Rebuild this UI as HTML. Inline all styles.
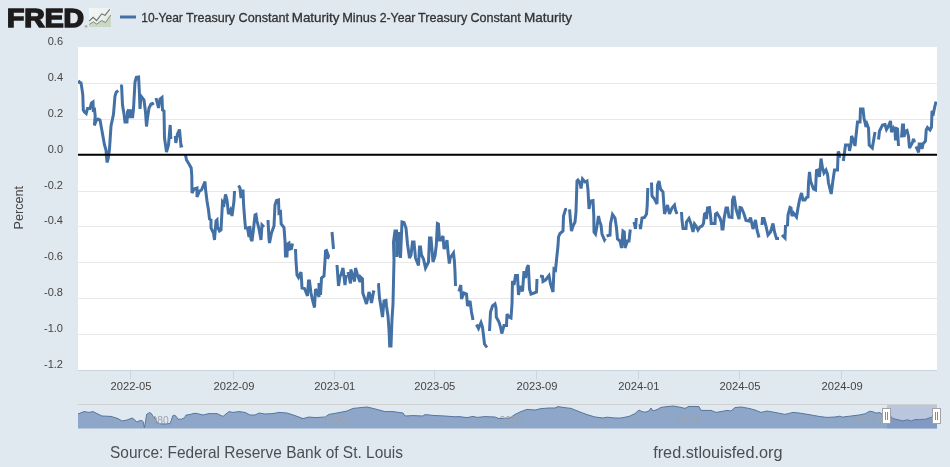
<!DOCTYPE html>
<html lang="en"><head><meta charset="utf-8"><title>10-Year Treasury Constant Maturity Minus 2-Year Treasury Constant Maturity</title>
<style>
html,body{margin:0;padding:0;background:#e1e9f0;}
body{width:950px;height:467px;overflow:hidden;font-family:"Liberation Sans",sans-serif;}
svg{display:block;}
text{font-family:"Liberation Sans",sans-serif;}
.ax{font-size:11px;fill:#444;}
.nv{font-size:10.3px;fill:#9aa2b0;}
.ft{font-size:16.5px;fill:#4a4f55;}
</style></head><body>
<svg width="950" height="467" viewBox="0 0 950 467">
<defs>
<clipPath id="plotclip"><rect x="78" y="47" width="859" height="323"/></clipPath>
<linearGradient id="icbg" x1="0" y1="0" x2="1" y2="1"><stop offset="0" stop-color="#f4f6f7"/><stop offset="0.5" stop-color="#eef1ee"/><stop offset="1" stop-color="#d3ddd2"/></linearGradient>
</defs>
<rect x="0" y="0" width="950" height="467" fill="#e1e9f0"/>
<rect x="78" y="47" width="859" height="323" fill="#ffffff"/>
<path d="M78 83.5H937" stroke="#e8e8e8" stroke-width="1" fill="none"/>
<path d="M78 119.5H937" stroke="#e8e8e8" stroke-width="1" fill="none"/>
<path d="M78 191.5H937" stroke="#e8e8e8" stroke-width="1" fill="none"/>
<path d="M78 226.5H937" stroke="#e8e8e8" stroke-width="1" fill="none"/>
<path d="M78 262.5H937" stroke="#e8e8e8" stroke-width="1" fill="none"/>
<path d="M78 298.5H937" stroke="#e8e8e8" stroke-width="1" fill="none"/>
<path d="M78 334.5H937" stroke="#e8e8e8" stroke-width="1" fill="none"/>
<path d="M78 370.5H937" stroke="#c8d3e0" stroke-width="1" fill="none"/>
<text class="ax" x="63" y="45.0" text-anchor="end">0.6</text>
<text class="ax" x="63" y="80.9" text-anchor="end">0.4</text>
<text class="ax" x="63" y="116.8" text-anchor="end">0.2</text>
<text class="ax" x="63" y="152.7" text-anchor="end">0.0</text>
<text class="ax" x="63" y="188.6" text-anchor="end">-0.2</text>
<text class="ax" x="63" y="224.4" text-anchor="end">-0.4</text>
<text class="ax" x="63" y="260.3" text-anchor="end">-0.6</text>
<text class="ax" x="63" y="296.2" text-anchor="end">-0.8</text>
<text class="ax" x="63" y="332.1" text-anchor="end">-1.0</text>
<text class="ax" x="63" y="368.0" text-anchor="end">-1.2</text>
<text transform="translate(23 229.4) rotate(-90)" font-size="12.3" fill="#444" textLength="43.4" lengthAdjust="spacingAndGlyphs">Percent</text>
<path d="M130.5 370V379.5" stroke="#cbd5e2" stroke-width="1" fill="none"/>
<text class="ax" font-size="11.2" style="font-size:11.2px" x="131.0" y="390" text-anchor="middle">2022-05</text>
<path d="M233.5 370V379.5" stroke="#cbd5e2" stroke-width="1" fill="none"/>
<text class="ax" font-size="11.2" style="font-size:11.2px" x="234.0" y="390" text-anchor="middle">2022-09</text>
<path d="M334.5 370V379.5" stroke="#cbd5e2" stroke-width="1" fill="none"/>
<text class="ax" font-size="11.2" style="font-size:11.2px" x="334.8" y="390" text-anchor="middle">2023-01</text>
<path d="M434.5 370V379.5" stroke="#cbd5e2" stroke-width="1" fill="none"/>
<text class="ax" font-size="11.2" style="font-size:11.2px" x="434.8" y="390" text-anchor="middle">2023-05</text>
<path d="M536.5 370V379.5" stroke="#cbd5e2" stroke-width="1" fill="none"/>
<text class="ax" font-size="11.2" style="font-size:11.2px" x="537.0" y="390" text-anchor="middle">2023-09</text>
<path d="M638.5 370V379.5" stroke="#cbd5e2" stroke-width="1" fill="none"/>
<text class="ax" font-size="11.2" style="font-size:11.2px" x="638.9" y="390" text-anchor="middle">2024-01</text>
<path d="M739.5 370V379.5" stroke="#cbd5e2" stroke-width="1" fill="none"/>
<text class="ax" font-size="11.2" style="font-size:11.2px" x="740.0" y="390" text-anchor="middle">2024-05</text>
<path d="M841.5 370V379.5" stroke="#cbd5e2" stroke-width="1" fill="none"/>
<text class="ax" font-size="11.2" style="font-size:11.2px" x="842.1" y="390" text-anchor="middle">2024-09</text>
<path clip-path="url(#plotclip)" d="M78.5 80.5 L79.5 82.5 L81.0 83.0 L82.0 89.0 L82.8 95.0 L83.3 110.0 L84.5 112.0 L86.2 113.5 L87.5 108.5 L90.0 108.5 L91.5 103.0 L93.0 102.0 L93.3 110.0 L94.5 109.5 L95.2 116.0 L94.4 125.5 L96.0 121.0 L98.0 119.0 L100.0 120.0 L102.0 131.0 L104.5 145.0 L106.0 150.0 L106.8 160.0 L107.2 162.5 L108.3 158.0 L109.5 149.0 L111.0 126.0 L112.5 119.0 L113.5 114.0 L115.0 96.0 L116.3 92.0 L118.4 90.8 M120.2 85.5 L121.6 86.0 L122.5 105.0 L124.0 114.0 L125.0 122.0 L127.0 122.0 L127.5 112.0 L128.5 109.5 L129.5 118.0 L131.5 109.5 L132.5 118.0 L133.5 109.0 L135.0 82.0 L136.3 77.3 L138.6 77.0 L139.5 95.0 L140.0 109.0 L141.0 96.0 L144.0 100.0 L145.5 112.0 L146.5 126.5 L147.5 118.0 L149.0 108.0 L151.0 104.0 L152.5 103.5 L153.5 105.0 M156.0 98.0 L158.5 108.0 L160.0 99.0 L162.0 97.5 L162.5 110.0 L164.0 111.0 L164.5 138.0 L166.5 152.0 L168.5 145.0 L170.2 125.0 L170.8 139.0 M175.3 136.0 L175.8 143.0 L177.5 134.0 L179.5 129.5 L181.0 146.0 L182.8 145.5 M185.5 155.0 L186.5 160.0 L189.0 164.0 L191.2 168.0 L191.8 176.0 L192.0 193.0 L194.0 189.0 L197.0 188.0 L197.0 197.0 L199.5 191.0 L201.5 190.0 L205.0 181.5 L205.5 189.0 L207.0 201.0 L208.5 210.0 L209.5 219.0 L211.0 220.0 L211.0 228.0 L213.5 233.0 L214.5 240.0 L216.0 221.0 L217.0 220.0 L217.5 227.0 L219.5 231.0 L221.0 230.0 L222.5 202.0 L224.0 204.0 L225.5 194.5 L227.0 200.0 L228.5 214.0 L230.5 210.0 L232.0 216.0 L234.0 201.0 L234.5 191.0 M238.5 185.5 L240.0 188.0 L241.0 198.0 L243.0 189.5 L243.5 203.0 L244.5 217.0 L245.5 228.0 L247.5 228.0 L249.0 237.0 L249.8 226.0 L251.0 239.0 L252.0 241.0 L253.5 229.0 L255.0 215.0 L256.0 214.5 L257.0 221.0 L259.0 229.0 L261.0 240.0 L262.0 225.0 L264.0 227.0 M268.0 220.0 L268.5 230.0 L269.0 239.0 L269.5 243.0 L271.5 233.0 L274.0 226.0 L275.0 205.0 L276.5 200.5 L278.5 200.0 L279.0 213.0 L280.5 212.0 L281.2 224.0 L284.0 227.5 L285.0 241.0 L285.5 256.0 L287.0 256.0 L287.5 244.0 L289.0 243.0 L290.0 249.0 L291.5 248.5 L292.5 243.5 M295.5 249.0 L296.0 261.0 L297.0 275.0 L298.5 277.5 L301.0 272.0 L301.5 279.0 L302.0 288.0 L304.5 288.5 L307.5 296.0 L308.5 281.0 L309.5 281.0 L311.0 293.0 L312.5 300.0 L314.5 307.5 L315.5 289.0 L317.5 293.0 L319.0 297.0 L319.0 283.0 L320.5 295.0 L321.5 278.0 L324.0 276.0 L325.0 261.0 L325.5 251.0 L326.5 250.5 L328.5 256.0 L327.5 259.0 M332.0 232.0 L333.5 249.0 M337.0 265.0 L338.5 286.0 L340.0 276.0 L341.0 275.0 L343.0 268.0 L345.0 285.0 L346.0 275.0 M348.0 272.0 L350.5 283.5 L350.8 269.5 L352.5 275.0 L354.5 281.5 L355.5 268.0 L357.5 275.0 L360.0 282.0 L360.5 277.0 L362.5 279.0 L362.8 293.0 L364.5 298.0 L366.5 304.0 L369.0 292.0 L370.0 295.0 L371.5 303.0 L373.5 292.0 L375.0 292.5 M377.5 284.5 L378.5 284.5 L379.5 298.0 L380.5 304.0 L382.5 317.0 L384.0 301.0 L386.0 300.5 L386.5 306.0 L388.0 316.0 L389.0 330.0 L389.7 346.0 L391.0 346.0 L392.0 319.0 L393.0 304.0 L394.0 260.0 L393.5 242.0 L395.0 231.0 L396.5 231.0 L397.0 257.0 L398.5 232.0 L400.5 258.0 L402.0 222.0 L404.0 222.5 L406.0 228.0 L407.5 244.0 L409.5 258.0 L411.0 255.0 L412.5 242.0 L414.0 242.0 L415.5 258.0 L418.5 265.5 L419.5 247.0 L420.5 247.0 L421.5 255.0 L423.5 259.0 L425.5 268.0 L427.5 264.0 L428.5 262.0 L429.5 238.0 L431.0 238.0 L432.0 250.0 L433.0 262.0 L435.0 256.0 L436.3 245.0 L437.4 223.5 L438.4 224.0 L439.5 240.0 L441.0 240.0 L443.0 236.0 L444.0 249.0 L445.5 246.0 L447.0 240.0 L448.0 252.0 L449.3 263.5 L450.2 258.0 L453.5 253.0 L454.5 262.0 L455.0 272.0 L455.5 286.0 M459.0 291.5 L460.8 285.0 L461.5 299.0 L464.0 293.0 L466.5 294.0 L467.5 306.0 L470.0 301.0 L471.5 312.0 L473.0 320.0 M476.5 324.5 L478.5 328.5 L481.0 322.5 L482.5 327.0 L484.5 344.0 L487.0 347.5 M489.5 331.0 L490.5 312.0 L492.5 306.0 L495.0 304.0 L496.0 308.0 L496.3 317.0 L499.0 322.0 L500.5 327.0 L501.8 333.5 L504.0 325.5 L506.5 325.5 L507.0 314.0 L509.0 317.0 L511.0 318.0 L512.0 304.0 L512.5 281.0 L514.0 285.0 L515.5 275.5 L517.5 275.5 L518.5 295.0 L520.0 286.0 L522.5 291.5 L524.0 271.0 L525.5 278.0 L527.0 268.0 L528.3 265.0 L529.0 278.0 L529.5 289.0 L531.0 294.0 L534.0 293.0 L536.5 292.0 L537.0 279.0 M540.0 276.0 L542.5 276.5 L543.0 281.5 L545.5 280.0 L549.0 275.5 L550.5 284.0 L553.0 292.0 L554.0 269.0 L555.5 270.0 L557.0 255.0 L558.0 246.0 L558.5 237.0 L560.0 233.5 L563.0 231.0 L563.5 216.0 L565.5 209.5 L567.0 209.3 M569.6 209.3 L570.5 221.0 L571.5 231.0 L573.0 226.0 L575.0 222.0 L576.0 212.0 L577.0 181.0 L578.0 180.0 L580.0 183.0 L581.0 188.5 L582.5 179.0 L585.0 182.0 L587.0 181.0 L588.0 190.0 L589.0 209.0 L590.5 201.0 L593.0 200.5 L593.8 216.0 L594.0 232.0 L595.5 234.0 L597.0 226.0 L598.5 216.0 L599.5 221.0 L601.0 225.0 L602.0 234.0 L604.5 240.0 L605.4 238.5 M606.6 236.0 L610.0 235.0 L610.5 224.0 L612.5 214.5 L615.0 218.0 L616.5 228.0 L617.5 239.0 L620.0 241.0 L621.5 248.0 L623.0 231.0 L624.3 232.0 L625.0 248.0 L627.5 241.0 L629.0 241.0 L630.3 229.5 M634.0 222.0 L635.5 229.0 L636.3 218.0 M640.0 224.0 L640.5 229.0 L642.0 218.0 L644.5 217.5 L646.5 214.0 L647.2 206.0 L647.8 188.0 M651.5 182.5 L652.0 196.0 L654.5 199.0 L657.0 204.0 L657.5 185.0 L659.0 181.0 L660.5 189.0 L663.0 192.0 L664.0 207.0 L664.5 214.0 L667.5 205.0 L669.5 214.0 L672.0 208.0 L674.5 205.0 L675.5 210.0 L677.0 214.0 M681.5 212.0 L682.0 220.0 L683.0 228.5 L686.0 228.5 L686.5 222.0 L689.0 218.5 L691.0 224.0 L693.0 232.0 L694.5 224.0 L696.0 226.0 L698.0 230.0 L700.0 227.0 L702.0 226.0 L703.5 223.5 L704.5 214.0 L706.0 213.0 L706.5 219.0 L707.5 208.0 L709.5 207.5 L710.5 215.0 L711.2 223.5 L715.0 223.5 L715.5 214.0 L717.0 213.0 L720.0 218.0 L721.5 223.0 L722.0 229.0 L723.0 229.0 L724.0 219.0 L726.0 208.0 L727.5 208.0 L729.0 217.0 L732.0 217.5 L732.5 200.0 L734.0 196.0 L735.0 202.0 L736.0 209.0 L737.5 214.0 L739.0 219.0 L740.0 207.5 L741.5 208.0 L744.0 214.0 L746.0 220.5 L749.0 221.0 L750.5 217.5 L753.0 229.0 L755.5 220.0 L757.0 230.0 L759.0 237.5 M762.0 225.0 L762.5 218.5 L764.0 218.5 L766.0 226.0 L768.0 235.0 L770.5 232.0 L773.0 223.5 L774.5 232.0 L776.5 238.5 L779.0 238.5 M782.0 235.0 L785.0 238.0 L785.5 226.0 L787.5 225.0 L788.0 215.0 L790.0 207.5 L791.0 208.0 L792.0 216.0 L793.5 213.0 L796.5 217.0 L798.0 208.0 L799.5 200.0 L801.5 193.0 L803.0 200.0 L805.0 200.0 L806.5 197.5 L808.0 197.0 L808.5 183.0 L809.5 172.0 L810.5 181.0 L813.5 189.0 L815.5 190.0 L816.5 170.5 L818.0 170.0 L819.5 177.0 L821.0 158.5 L822.5 168.0 L824.0 173.0 L826.0 170.0 L827.5 174.0 L828.5 183.0 L831.2 194.0 L833.0 180.0 L834.5 170.0 L837.5 170.0 L838.2 151.5 L839.0 153.0 L839.6 158.0 M843.3 161.0 L844.0 156.0 L845.5 145.0 L849.0 145.0 L849.5 151.0 L851.0 144.0 L851.5 136.0 L853.5 140.0 L855.0 146.0 L856.2 134.0 L857.5 122.0 L860.0 122.0 L860.5 109.0 L863.0 109.0 L864.0 118.0 L866.0 127.0 L867.0 124.0 L868.5 128.0 L869.2 145.0 L872.3 148.0 L874.0 138.0 L875.0 132.0 M878.5 139.5 L879.5 131.0 L882.5 125.0 L885.0 124.5 L886.5 129.5 L888.5 126.0 L890.5 121.0 L891.5 132.0 L893.5 128.0 L895.0 131.0 L895.5 140.5 L896.5 128.5 L897.5 129.0 L898.5 146.0 M901.5 137.5 L902.5 125.0 L903.5 125.0 L904.0 137.0 L905.0 131.5 L907.0 130.5 L908.5 136.5 L909.5 148.0 L912.5 142.5 L913.5 139.0 L914.5 142.5 M916.0 146.5 L918.6 152.5 L919.2 144.0 L921.5 144.0 L922.0 149.0 L923.0 144.0 L925.5 141.0 L926.2 130.0 L927.5 127.5 L930.0 130.0 L931.5 127.0 L932.0 111.0 L933.5 113.0 L934.5 108.0 L936.0 101.5" stroke="#4370a5" stroke-width="3" fill="none" stroke-miterlimit="3" stroke-linejoin="miter" stroke-linecap="butt"/>
<path d="M78 154.8H937" stroke="#000" stroke-width="2" fill="none"/>
<text x="6.9" y="26.75" font-size="26.4" font-weight="bold" fill="#1d1b1c" stroke="#1d1b1c" stroke-width="1.6" stroke-linejoin="miter" textLength="77.2" lengthAdjust="spacingAndGlyphs">FRED</text>
<text x="84.5" y="28" font-size="4" fill="#333">®</text>
<rect x="89" y="8" width="22" height="19" fill="url(#icbg)"/>
<path d="M89.2 24.4L93.4 21.8L96.6 24.1L101.7 20.6L105.6 22.5L110.7 15.1V27H89.2Z" fill="#c9d7c4" stroke="none"/>
<path d="M89.2 24.4L93.4 21.8L96.6 24.1L101.7 20.6L105.6 22.5L110.7 15.1" fill="none" stroke="#788a75" stroke-width="1"/>
<path d="M89.2 21.2L93.1 17.3L96.6 20.6L101.7 13.8L105 15.4L109.8 9.3" fill="none" stroke="#5c6b6e" stroke-width="1.05"/>
<path d="M120 17H136" stroke="#4370a5" stroke-width="3" fill="none"/>
<text x="141" y="22" font-size="13" fill="#333" stroke="#333" stroke-width="0.3"><tspan x="141.21" textLength="41.66" lengthAdjust="spacingAndGlyphs">10-Year</tspan> <tspan x="186.09" textLength="49.08" lengthAdjust="spacingAndGlyphs">Treasury</tspan> <tspan x="238.52" textLength="50.59" lengthAdjust="spacingAndGlyphs">Constant</tspan> <tspan x="291.74" textLength="47.71" lengthAdjust="spacingAndGlyphs">Maturity</tspan> <tspan x="342.20" textLength="34.11" lengthAdjust="spacingAndGlyphs">Minus</tspan> <tspan x="379.68" textLength="35.71" lengthAdjust="spacingAndGlyphs">2-Year</tspan> <tspan x="418.05" textLength="49.16" lengthAdjust="spacingAndGlyphs">Treasury</tspan> <tspan x="470.41" textLength="50.45" lengthAdjust="spacingAndGlyphs">Constant</tspan> <tspan x="524.03" textLength="48.12" lengthAdjust="spacingAndGlyphs">Maturity</tspan></text>
<path d="M78.0 414.0 L84.0 411.6 L89.0 412.4 L93.0 411.6 L97.0 413.6 L102.0 416.0 L111.0 416.4 L118.0 418.6 L122.0 421.0 L127.0 420.0 L130.0 418.8 L132.2 418.0 L134.4 419.5 L136.6 422.1 L138.8 421.0 L141.8 420.3 L143.3 422.1 L144.4 427.6 L145.5 422.0 L146.6 414.4 L149.5 412.5 L151.4 413.6 L152.8 416.2 L155.0 418.0 L157.3 422.8 L160.0 423.8 L165.0 424.0 L169.8 423.6 L171.3 420.6 L172.7 415.8 L174.2 415.1 L176.0 416.2 L177.9 419.2 L181.6 419.2 L184.5 417.7 L186.0 415.1 L189.0 414.7 L191.9 414.0 L194.1 413.3 L197.0 413.6 L199.0 414.0 L203.0 415.0 L209.0 413.6 L217.0 413.6 L223.0 416.4 L226.0 414.0 L229.0 411.6 L233.0 412.4 L239.0 411.6 L245.0 412.4 L250.0 415.0 L255.0 415.0 L259.0 413.0 L265.0 414.0 L273.0 413.6 L279.0 412.4 L287.0 413.0 L295.0 415.6 L303.0 418.6 L309.0 417.0 L315.0 417.6 L325.0 417.0 L329.0 414.4 L337.0 413.0 L347.0 411.0 L353.0 408.4 L363.0 407.4 L367.0 407.0 L373.0 408.4 L379.0 410.0 L385.0 411.6 L393.0 411.6 L403.0 413.0 L405.0 416.0 L413.0 415.6 L423.0 416.0 L425.0 414.6 L433.0 415.4 L445.0 416.0 L455.0 416.8 L459.0 416.6 L467.0 417.6 L473.0 416.4 L477.0 417.4 L485.0 416.6 L495.0 417.0 L499.0 418.6 L510.0 418.0 L515.0 414.4 L521.0 411.6 L527.0 409.4 L535.0 410.0 L541.0 408.6 L549.0 408.0 L555.0 408.0 L558.0 406.6 L563.0 407.4 L571.0 408.4 L579.0 411.6 L587.0 414.6 L595.0 417.0 L603.0 418.0 L607.0 417.2 L615.0 418.0 L621.0 418.0 L629.0 416.4 L635.0 413.6 L639.0 410.0 L642.0 411.6 L645.0 412.2 L649.0 411.0 L651.0 408.0 L653.0 411.0 L657.0 409.6 L661.0 407.4 L667.0 406.6 L673.0 406.0 L679.0 407.0 L685.0 408.4 L689.0 406.4 L699.0 406.6 L701.0 410.4 L711.0 410.4 L716.0 412.4 L721.0 411.6 L727.0 410.4 L731.0 411.0 L735.0 407.6 L741.0 407.0 L749.0 408.4 L755.0 410.0 L761.0 412.4 L767.0 411.0 L775.0 412.4 L785.0 414.4 L793.0 412.4 L799.0 413.0 L809.0 414.6 L819.0 416.4 L827.0 417.4 L835.0 417.0 L839.8 416.2 L842.3 417.1 L849.5 416.2 L859.2 415.0 L865.3 413.7 L869.5 411.3 L872.5 411.6 L876.2 413.1 L879.8 412.5 L882.2 414.3 L890.7 416.2 L893.1 418.6 L898.0 419.8 L902.8 420.8 L907.6 419.8 L911.3 421.0 L914.9 419.5 L919.7 419.5 L925.8 419.2 L930.6 417.4 L935.5 416.2 L937.0 416.0 L937 428.5 L78 428.5 Z" fill="#8ea7c9" stroke="none"/>
<path d="M78.0 414.0 L84.0 411.6 L89.0 412.4 L93.0 411.6 L97.0 413.6 L102.0 416.0 L111.0 416.4 L118.0 418.6 L122.0 421.0 L127.0 420.0 L130.0 418.8 L132.2 418.0 L134.4 419.5 L136.6 422.1 L138.8 421.0 L141.8 420.3 L143.3 422.1 L144.4 427.6 L145.5 422.0 L146.6 414.4 L149.5 412.5 L151.4 413.6 L152.8 416.2 L155.0 418.0 L157.3 422.8 L160.0 423.8 L165.0 424.0 L169.8 423.6 L171.3 420.6 L172.7 415.8 L174.2 415.1 L176.0 416.2 L177.9 419.2 L181.6 419.2 L184.5 417.7 L186.0 415.1 L189.0 414.7 L191.9 414.0 L194.1 413.3 L197.0 413.6 L199.0 414.0 L203.0 415.0 L209.0 413.6 L217.0 413.6 L223.0 416.4 L226.0 414.0 L229.0 411.6 L233.0 412.4 L239.0 411.6 L245.0 412.4 L250.0 415.0 L255.0 415.0 L259.0 413.0 L265.0 414.0 L273.0 413.6 L279.0 412.4 L287.0 413.0 L295.0 415.6 L303.0 418.6 L309.0 417.0 L315.0 417.6 L325.0 417.0 L329.0 414.4 L337.0 413.0 L347.0 411.0 L353.0 408.4 L363.0 407.4 L367.0 407.0 L373.0 408.4 L379.0 410.0 L385.0 411.6 L393.0 411.6 L403.0 413.0 L405.0 416.0 L413.0 415.6 L423.0 416.0 L425.0 414.6 L433.0 415.4 L445.0 416.0 L455.0 416.8 L459.0 416.6 L467.0 417.6 L473.0 416.4 L477.0 417.4 L485.0 416.6 L495.0 417.0 L499.0 418.6 L510.0 418.0 L515.0 414.4 L521.0 411.6 L527.0 409.4 L535.0 410.0 L541.0 408.6 L549.0 408.0 L555.0 408.0 L558.0 406.6 L563.0 407.4 L571.0 408.4 L579.0 411.6 L587.0 414.6 L595.0 417.0 L603.0 418.0 L607.0 417.2 L615.0 418.0 L621.0 418.0 L629.0 416.4 L635.0 413.6 L639.0 410.0 L642.0 411.6 L645.0 412.2 L649.0 411.0 L651.0 408.0 L653.0 411.0 L657.0 409.6 L661.0 407.4 L667.0 406.6 L673.0 406.0 L679.0 407.0 L685.0 408.4 L689.0 406.4 L699.0 406.6 L701.0 410.4 L711.0 410.4 L716.0 412.4 L721.0 411.6 L727.0 410.4 L731.0 411.0 L735.0 407.6 L741.0 407.0 L749.0 408.4 L755.0 410.0 L761.0 412.4 L767.0 411.0 L775.0 412.4 L785.0 414.4 L793.0 412.4 L799.0 413.0 L809.0 414.6 L819.0 416.4 L827.0 417.4 L835.0 417.0 L839.8 416.2 L842.3 417.1 L849.5 416.2 L859.2 415.0 L865.3 413.7 L869.5 411.3 L872.5 411.6 L876.2 413.1 L879.8 412.5 L882.2 414.3 L890.7 416.2 L893.1 418.6 L898.0 419.8 L902.8 420.8 L907.6 419.8 L911.3 421.0 L914.9 419.5 L919.7 419.5 L925.8 419.2 L930.6 417.4 L935.5 416.2 L937.0 416.0" fill="none" stroke="#58759d" stroke-width="1"/>
<text class="nv" x="145.8" y="424.2">1980</text>
<text class="nv" x="322.7" y="424.2">1990</text>
<text class="nv" x="499.6" y="424.2">2000</text>
<text class="nv" x="676.5" y="424.2">2010</text>
<text class="nv" x="853.4" y="424.2">2020</text>
<rect x="887" y="404" width="50" height="24.5" fill="#667fba" fill-opacity="0.33"/>
<path d="M78 404.5H937" stroke="#d0d0d0" stroke-width="1" fill="none"/>
<rect x="882.5" y="408.5" width="8" height="15" fill="#ffffff" stroke="#a3a3a3" stroke-width="1"/>
<path d="M885.5 412V420M887.5 412V420" stroke="#8e8a84" stroke-width="1" fill="none"/>
<rect x="932.5" y="408.5" width="8" height="15" fill="#ffffff" stroke="#a3a3a3" stroke-width="1"/>
<path d="M935.5 412V420M937.5 412V420" stroke="#8e8a84" stroke-width="1" fill="none"/>
<text class="ft" x="110" y="457.8" textLength="293" lengthAdjust="spacingAndGlyphs">Source: Federal Reserve Bank of St. Louis</text>
<text class="ft" x="653.2" y="457.8" textLength="129.3" lengthAdjust="spacingAndGlyphs">fred.stlouisfed.org</text>
</svg></body></html>
